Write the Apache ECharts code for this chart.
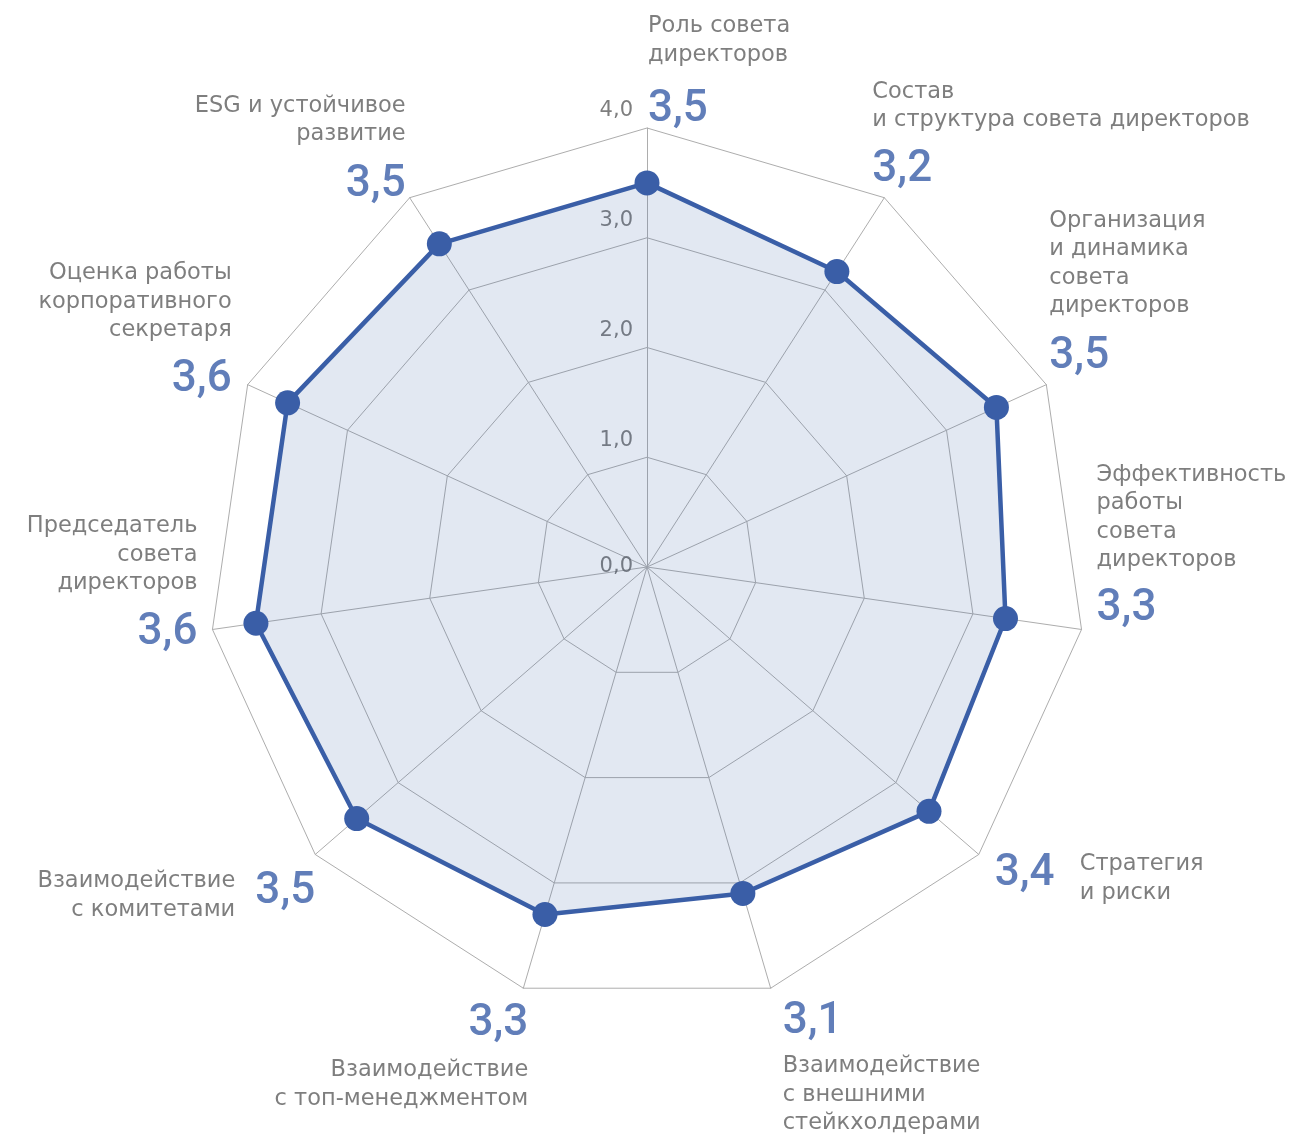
<!DOCTYPE html>
<html>
<head>
<meta charset="utf-8">
<script src="https://cdn.jsdelivr.net/npm/echarts@6/dist/echarts.min.js"></script>
<style>
    html, body { margin: 0; padding: 0; background: #fff; }
    #radar { width: 1291px; height: 1134px; }
</style>
</head>
<body>
<div id="radar"></div>
<script type="text/javascript">
    // categories (clockwise from the top)
    var categories = [
        'Роль совета\nдиректоров',
        'Состав\nи структура совета директоров',
        'Организация\nи динамика\nсовета\nдиректоров',
        'Эффективность\nработы\nсовета\nдиректоров',
        'Стратегия\nи риски',
        'Взаимодействие\nс внешними\nстейкхолдерами',
        'Взаимодействие\nс топ-менеджментом',
        'Взаимодействие\nс комитетами',
        'Председатель\nсовета\nдиректоров',
        'Оценка работы\nкорпоративного\nсекретаря',
        'ESG и устойчивое\nразвитие'
    ];
    var scores = [3.5, 3.2, 3.5, 3.3, 3.4, 3.1, 3.3, 3.5, 3.6, 3.6, 3.5];
    var ticks = [0, 1, 2, 3, 4];
    var maxScore = 4;

    // label placement relative to each outer vertex: [align, verticalAlign, dx, dy]
    var nameLayout = [
        ['left', 'bottom', 1, -59],
        ['left', 'bottom', -12, -63],
        ['left', 'bottom', 3, -64],
        ['left', 'bottom', 15, -55],
        ['left', 'middle', 101, 24],
        ['left', 'top', 12, 64],
        ['right', 'top', 5, 68],
        ['right', 'middle', -80, 41],
        ['right', 'bottom', -15, -32],
        ['right', 'bottom', -16, -40],
        ['right', 'bottom', -4, -49]
    ];
    var valueLayout = [
        ['left', 'middle', 1, -18],
        ['left', 'middle', -12, -28],
        ['left', 'middle', 3, -28],
        ['left', 'middle', 15, -20],
        ['left', 'middle', 16, 20],
        ['left', 'middle', 12, 34],
        ['right', 'middle', 5, 36],
        ['right', 'middle', 0, 38],
        ['right', 'middle', -15, 4],
        ['right', 'middle', -16, -5],
        ['right', 'middle', -4, -13]
    ];

    var NAME_FONT = '"DejaVu Sans", Verdana, sans-serif';
    var VALUE_FONT = 'Roboto, "Noto Sans", sans-serif';
    var BLUE = '#3a5ea7';
    var GRAY = '#5e5e5e';
    var CENTER = [647, 567];
    var RADIUS = 439;

    function fmt(v) {
        return v.toFixed(1).replace('.', ',');
    }

    // echarts radar runs counter-clockwise, so feed it the reversed order
    var order = [0];
    for (var k = categories.length - 1; k > 0; k--) order.push(k);

    var indicator = order.map(function (i) {
        return {name: categories[i], min: 0, max: maxScore};
    });
    var radarValues = order.map(function (i) { return scores[i]; });

    var nameData = categories.map(function (c, i) {
        var l = nameLayout[i];
        return {
            value: [maxScore, i],
            label: {formatter: c, align: l[0], verticalAlign: l[1], offset: [l[2], l[3]]}
        };
    });
    var valueData = scores.map(function (s, i) {
        var l = valueLayout[i];
        return {
            value: [maxScore, i],
            label: {formatter: fmt(s), align: l[0], verticalAlign: l[1], offset: [l[2], l[3]]}
        };
    });
    var tickData = ticks.map(function (t) {
        return {
            value: [t, 0],
            label: {formatter: fmt(t), offset: [-14, t === 0 ? 0 : -17]}
        };
    });

    var myChart = echarts.init(document.getElementById('radar'));
    var option = {
        backgroundColor: '#fff',
        animation: false,
        radar: {
            center: CENTER,
            radius: RADIUS,
            startAngle: 90,
            shape: 'polygon',
            splitNumber: 4,
            indicator: indicator,
            axisName: {show: false},
            axisLine: {lineStyle: {color: '#adadad', width: 1}},
            splitLine: {lineStyle: {color: '#adadad', width: 1}},
            splitArea: {show: false}
        },
        polar: {
            center: CENTER,
            radius: RADIUS
        },
        angleAxis: {
            type: 'value',
            min: 0,
            max: categories.length,
            startAngle: 90,
            clockwise: true,
            show: false
        },
        radiusAxis: {
            type: 'value',
            min: 0,
            max: maxScore,
            show: false
        },
        series: [
            {
                type: 'radar',
                z: 3,
                symbol: 'circle',
                symbolSize: 25,
                lineStyle: {color: BLUE, width: 4.5},
                itemStyle: {color: BLUE},
                areaStyle: {color: 'rgba(59,98,168,0.15)', opacity: 1},
                data: [{value: radarValues}]
            },
            {
                type: 'scatter',
                coordinateSystem: 'polar',
                symbolSize: 1,
                itemStyle: {color: 'rgba(0,0,0,0)'},
                silent: true,
                label: {
                    show: true,
                    position: 'inside',
                    fontFamily: NAME_FONT,
                    fontSize: 22.5,
                    lineHeight: 28.5,
                    color: GRAY
                },
                data: nameData
            },
            {
                type: 'scatter',
                coordinateSystem: 'polar',
                symbolSize: 1,
                itemStyle: {color: 'rgba(0,0,0,0)'},
                silent: true,
                label: {
                    show: true,
                    position: 'inside',
                    fontFamily: VALUE_FONT,
                    fontSize: 44,
                    fontWeight: 500,
                    color: BLUE
                },
                data: valueData
            },
            {
                type: 'scatter',
                coordinateSystem: 'polar',
                symbolSize: 1,
                itemStyle: {color: 'rgba(0,0,0,0)'},
                silent: true,
                label: {
                    show: true,
                    position: 'inside',
                    align: 'right',
                    verticalAlign: 'middle',
                    fontFamily: NAME_FONT,
                    fontSize: 21,
                    color: GRAY
                },
                data: tickData
            }
        ]
    };
    myChart.setOption(option);
</script>
</body>
</html>
